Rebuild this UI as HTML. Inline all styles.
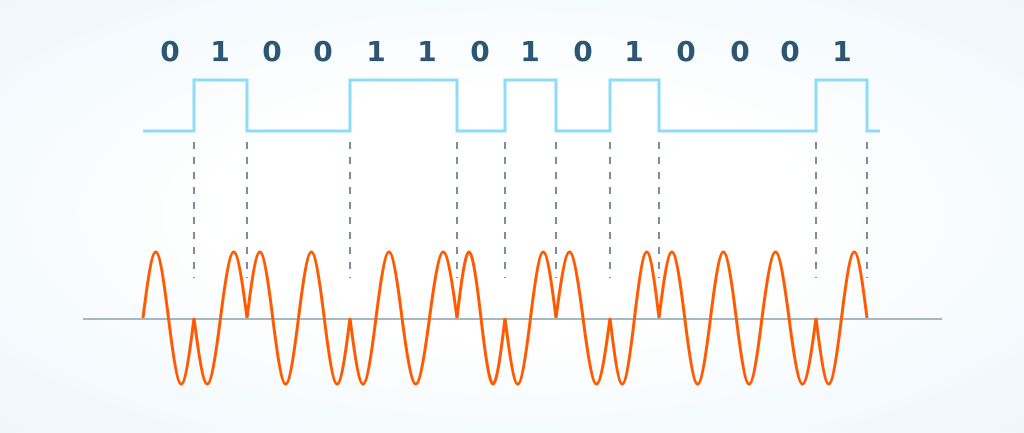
<!DOCTYPE html>
<html><head><style>
html,body{margin:0;padding:0}
body{width:1024px;height:428px;overflow:hidden;background:radial-gradient(ellipse at center,#ffffff 40%,#eef7fc 100%)}
</style></head><body>
<svg width="1024" height="428" viewBox="0 0 1024 428" xmlns="http://www.w3.org/2000/svg">
<g font-family="DejaVu Sans, sans-serif" font-weight="bold" font-size="28" fill="#2d5673" text-anchor="middle">
<text x="170" y="61">0</text><text x="220" y="61">1</text><text x="272" y="61">0</text><text x="323" y="61">0</text>
<text x="376" y="61">1</text><text x="427" y="61">1</text><text x="480" y="61">0</text><text x="530" y="61">1</text>
<text x="583" y="61">0</text><text x="634" y="61">1</text><text x="686" y="61">0</text><text x="740" y="61">0</text>
<text x="790" y="61">0</text><text x="842" y="61">1</text>
</g>
<polyline fill="none" stroke="#8fdcf7" stroke-width="3" points="143,131 194,131 194,80 247,80 247,131 350,131 350,80 457,80 457,131 505,131 505,80 556,80 556,131 610,131 610,80 659,80 659,131 816,131 816,80 867,80 867,131 880,131"/>
<g stroke="#56728a" stroke-width="1.6" stroke-dasharray="7,8">
<line x1="194" y1="142" x2="194" y2="278"/><line x1="247" y1="142" x2="247" y2="278"/>
<line x1="350" y1="142" x2="350" y2="278"/><line x1="457" y1="142" x2="457" y2="278"/>
<line x1="505" y1="142" x2="505" y2="278"/><line x1="556" y1="142" x2="556" y2="278"/>
<line x1="610" y1="142" x2="610" y2="278"/><line x1="659" y1="142" x2="659" y2="278"/>
<line x1="816" y1="142" x2="816" y2="278"/><line x1="867" y1="142" x2="867" y2="278"/>
</g>
<line x1="83" y1="319" x2="942" y2="319" stroke="#8aa0ae" stroke-width="1.5"/>
<g fill="none" stroke="#ff5a00" stroke-width="3">
<path vector-effect="non-scaling-stroke" transform="translate(143,318) scale(0.51,1)" d="M0,0 C8.15,-33.8 17.05,-66 25,-66 C32.95,-66 41.85,-33.8 50,0 C58.15,33.8 67.05,66 75,66 C82.95,66 91.85,33.8 100,0"/>
<path vector-effect="non-scaling-stroke" transform="translate(194,318) scale(0.53,-1)" d="M0,0 C8.15,-33.8 17.05,-66 25,-66 C32.95,-66 41.85,-33.8 50,0 C58.15,33.8 67.05,66 75,66 C82.95,66 91.85,33.8 100,0"/>
<path vector-effect="non-scaling-stroke" transform="translate(247,318) scale(0.515,1)" d="M0,0 C8.15,-33.8 17.05,-66 25,-66 C32.95,-66 41.85,-33.8 50,0 C58.15,33.8 67.05,66 75,66 C82.95,66 91.85,33.8 100,0"/>
<path vector-effect="non-scaling-stroke" transform="translate(298.5,318) scale(0.515,1)" d="M0,0 C8.15,-33.8 17.05,-66 25,-66 C32.95,-66 41.85,-33.8 50,0 C58.15,33.8 67.05,66 75,66 C82.95,66 91.85,33.8 100,0"/>
<path vector-effect="non-scaling-stroke" transform="translate(350,318) scale(0.52,-1)" d="M0,0 C8.15,-33.8 17.05,-66 25,-66 C32.95,-66 41.85,-33.8 50,0 C58.15,33.8 67.05,66 75,66 C82.95,66 91.85,33.8 100,0"/>
<path vector-effect="non-scaling-stroke" transform="translate(402,318) scale(0.55,-1)" d="M0,0 C8.15,-33.8 17.05,-66 25,-66 C32.95,-66 41.85,-33.8 50,0 C58.15,33.8 67.05,66 75,66 C82.95,66 91.85,33.8 100,0"/>
<path vector-effect="non-scaling-stroke" transform="translate(457,318) scale(0.48,1)" d="M0,0 C8.15,-33.8 17.05,-66 25,-66 C32.95,-66 41.85,-33.8 50,0 C58.15,33.8 67.05,66 75,66 C82.95,66 91.85,33.8 100,0"/>
<path vector-effect="non-scaling-stroke" transform="translate(505,318) scale(0.51,-1)" d="M0,0 C8.15,-33.8 17.05,-66 25,-66 C32.95,-66 41.85,-33.8 50,0 C58.15,33.8 67.05,66 75,66 C82.95,66 91.85,33.8 100,0"/>
<path vector-effect="non-scaling-stroke" transform="translate(556,318) scale(0.54,1)" d="M0,0 C8.15,-33.8 17.05,-66 25,-66 C32.95,-66 41.85,-33.8 50,0 C58.15,33.8 67.05,66 75,66 C82.95,66 91.85,33.8 100,0"/>
<path vector-effect="non-scaling-stroke" transform="translate(610,318) scale(0.49,-1)" d="M0,0 C8.15,-33.8 17.05,-66 25,-66 C32.95,-66 41.85,-33.8 50,0 C58.15,33.8 67.05,66 75,66 C82.95,66 91.85,33.8 100,0"/>
<path vector-effect="non-scaling-stroke" transform="translate(659,318) scale(0.515,1)" d="M0,0 C8.15,-33.8 17.05,-66 25,-66 C32.95,-66 41.85,-33.8 50,0 C58.15,33.8 67.05,66 75,66 C82.95,66 91.85,33.8 100,0"/>
<path vector-effect="non-scaling-stroke" transform="translate(710.5,318) scale(0.515,1)" d="M0,0 C8.15,-33.8 17.05,-66 25,-66 C32.95,-66 41.85,-33.8 50,0 C58.15,33.8 67.05,66 75,66 C82.95,66 91.85,33.8 100,0"/>
<path vector-effect="non-scaling-stroke" transform="translate(762,318) scale(0.54,1)" d="M0,0 C8.15,-33.8 17.05,-66 25,-66 C32.95,-66 41.85,-33.8 50,0 C58.15,33.8 67.05,66 75,66 C82.95,66 91.85,33.8 100,0"/>
<path vector-effect="non-scaling-stroke" transform="translate(816,318) scale(0.51,-1)" d="M0,0 C8.15,-33.8 17.05,-66 25,-66 C32.95,-66 41.85,-33.8 50,0 C58.15,33.8 67.05,66 75,66 C82.95,66 91.85,33.8 100,0"/>
</g>
</svg>
</body></html>
